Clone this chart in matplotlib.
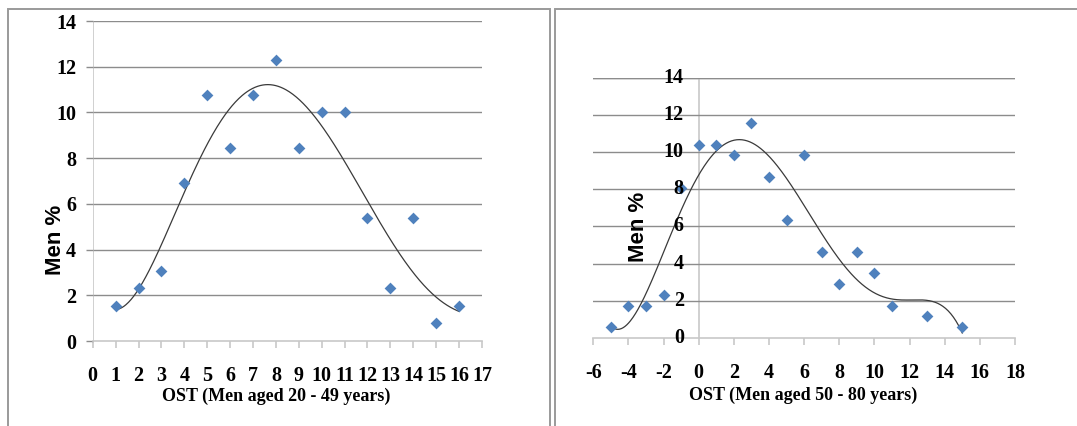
import numpy as np
import matplotlib
matplotlib.use("Agg")
import matplotlib.pyplot as plt
from matplotlib.patches import Rectangle

plt.rcParams["axes.unicode_minus"] = False

# OST score vs share of men (%), two age groups
x_young = [1, 2, 3, 4, 5, 6, 7, 8, 9, 10, 11, 12, 13, 14, 15, 16]
men_young = [1.54, 2.31, 3.08, 6.92, 10.77, 8.46, 10.77, 12.31, 8.46, 10.0, 10.0, 5.38, 2.31, 5.38, 0.77, 1.54]
x_old = [-5, -4, -3, -2, -1, 0, 1, 2, 3, 4, 5, 6, 7, 8, 9, 10, 11, 13, 15]
men_old = [0.58, 1.73, 1.73, 2.31, 8.09, 10.40, 10.40, 9.83, 11.56, 8.67, 6.36, 9.83, 4.62, 2.89, 4.62, 3.47, 1.73, 1.16, 0.58]

xticks_young = list(range(0, 18))
xticks_old = list(range(-6, 19, 2))
yticks = list(range(0, 15, 2))

SERIF = ["Liberation Serif", "DejaVu Serif"]
SANS = ["Liberation Sans", "DejaVu Sans"]
BLUE = "#4F81BD"
GRID = "#8c8c8c"
AXIS = "#c8c8c8"
TICK_FS = 14.5
XLAB_FS = 13


def trend(ax, xs, ys, deg=5):
    # polynomial trendline like the Excel one
    p = np.polyfit(xs, ys, deg)
    xx = np.linspace(min(xs), max(xs), 400)
    ax.plot(xx, np.polyval(p, xx), color="#3a3a3a", lw=0.9, zorder=2)


def style(ax, xticks, xlim):
    ax.set_xlim(*xlim)
    ax.set_ylim(0, 14)
    for s in ["top", "right", "left"]:
        ax.spines[s].set_visible(False)
    ax.spines["bottom"].set_color(AXIS)
    ax.spines["bottom"].set_linewidth(1.2)
    ax.set_xticks(xticks)
    ax.set_yticks(yticks)
    for y in yticks[1:]:
        ax.axhline(y, color=GRID, lw=1.0, zorder=1)
    ax.tick_params(axis="x", length=5, width=1.2, color=AXIS, pad=13)
    for lab in ax.get_xticklabels() + ax.get_yticklabels():
        lab.set_family(SERIF)
        lab.set_fontweight("bold")
        lab.set_fontsize(TICK_FS)


fig = plt.figure(figsize=(10.77, 4.26), dpi=100)

# panel frames
fig.add_artist(Rectangle((8 / 1077, -0.05), (550 - 8) / 1077, 1.05 - 9.5 / 426,
                         transform=fig.transFigure, fill=False, ec="#9a9a9a", lw=1.4))
fig.add_artist(Rectangle((555 / 1077, -0.05), 0.6, 1.05 - 9.5 / 426,
                         transform=fig.transFigure, fill=False, ec="#9a9a9a", lw=1.4))

# left panel
ax1 = fig.add_axes([0.0861, 0.1995, 0.3614, 0.7512])
ax1.scatter(x_young, men_young, marker="D", s=36, color=BLUE, lw=0, zorder=3)
trend(ax1, x_young, men_young)
style(ax1, xticks_young, (0, 17))
ax1.axvline(0, color=AXIS, lw=1.2, zorder=1)
ax1.tick_params(axis="y", length=5, width=1.0, color=GRID, pad=7)
ax1.text(0.471, -0.172, "OST (Men aged 20 - 49 years)", transform=ax1.transAxes,
         ha="center", va="center", family=SERIF, fontweight="bold", fontsize=XLAB_FS)
ax1.text(-0.095, 0.316, "Men %", transform=ax1.transAxes, rotation=90,
         ha="center", va="center", family=SANS, fontweight="bold", fontsize=16)

# right panel
ax2 = fig.add_axes([0.5509, 0.2066, 0.3915, 0.6110])
ax2.axhline(14, color=GRID, lw=1.0, zorder=1)
ax2.axvline(0, color=AXIS, lw=1.2, zorder=1)
ax2.scatter(x_old, men_old, marker="D", s=36, color=BLUE, lw=0, zorder=3)
trend(ax2, x_old, men_old)
style(ax2, xticks_old, (-6, 18))
ax2.tick_params(axis="y", length=0, pad=0)
ax2.set_yticklabels([])
for y in yticks:
    ax2.text(-0.85, y, str(y), ha="right", va="center", family=SERIF,
             fontweight="bold", fontsize=TICK_FS, zorder=4)
ax2.text(0.497, -0.219, "OST (Men aged 50 - 80 years)", transform=ax2.transAxes,
         ha="center", va="center", family=SERIF, fontweight="bold", fontsize=XLAB_FS)
ax2.text(-3.45, 6.0, "Men %", rotation=90, ha="center", va="center",
         family=SANS, fontweight="bold", fontsize=16, zorder=4)

fig.savefig("out.png", dpi=100)
